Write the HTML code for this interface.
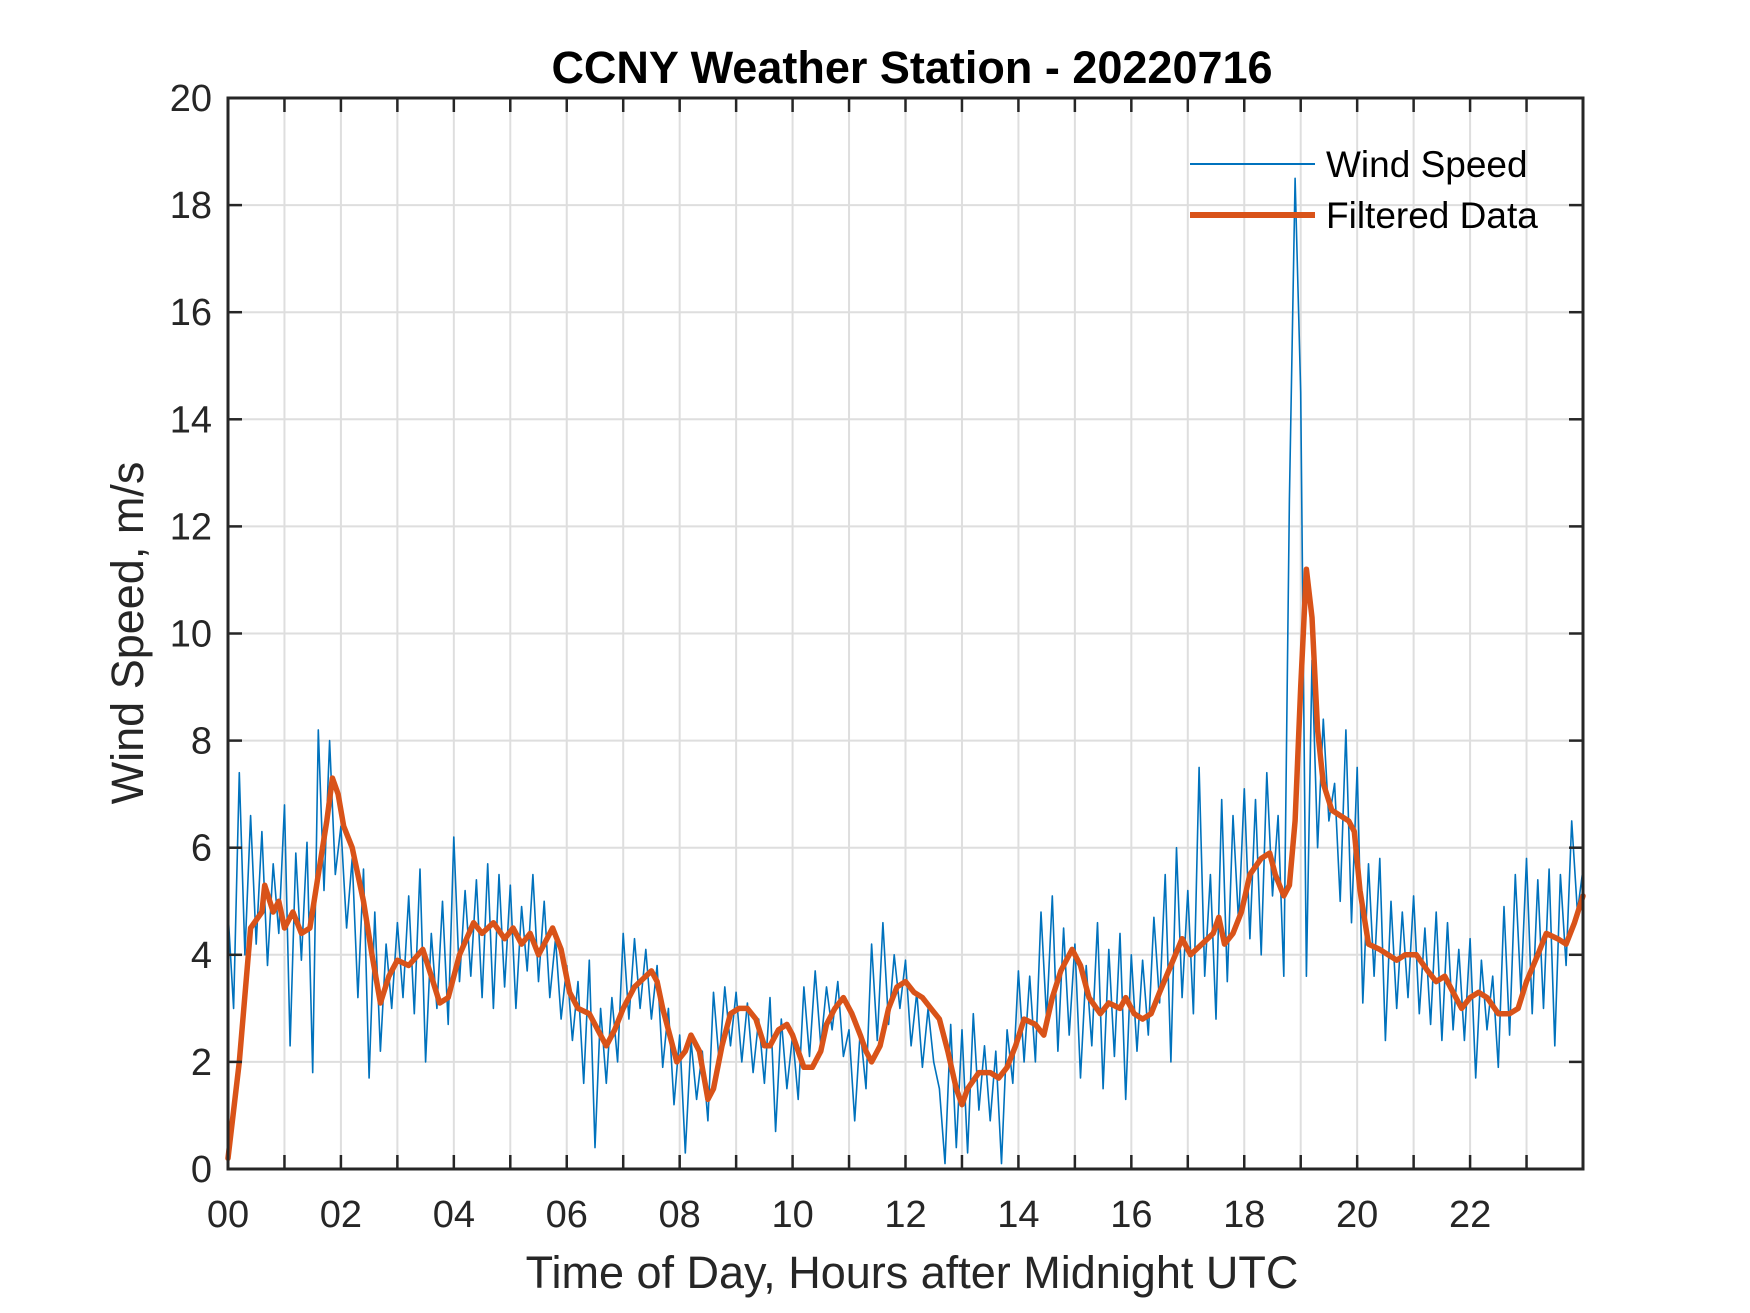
<!DOCTYPE html>
<html><head><meta charset="utf-8">
<style>
html,body{margin:0;padding:0;background:#fff;}
svg{display:block;font-family:"Liberation Sans",Arial,sans-serif;}
</style></head>
<body>
<svg id="chart" width="1750" height="1313" viewBox="0 0 1750 1313">
<rect x="0" y="0" width="1750" height="1313" fill="#fff"/>
<g id="grid"></g>
<g id="series"></g>
<g id="axes"></g>
<text x="912" y="83" text-anchor="middle" font-size="45" font-weight="bold" fill="#000">CCNY Weather Station - 20220716</text>
<text x="912" y="1288" text-anchor="middle" font-size="45" fill="#262626">Time of Day, Hours after Midnight UTC</text>
<text transform="translate(143,633) rotate(-90)" text-anchor="middle" font-size="45" fill="#262626">Wind Speed, m/s</text>
<g>
<line x1="1190" y1="164" x2="1315" y2="164" stroke="#0072BD" stroke-width="2"/>
<text x="1326" y="177" font-size="37" fill="#000">Wind Speed</text>
<line x1="1190" y1="215" x2="1315" y2="215" stroke="#D95319" stroke-width="6"/>
<text x="1326" y="228" font-size="37" fill="#000">Filtered Data</text>
</g>
</svg>
<script>
const xTickLabels=["00","02","04","06","08","10","12","14","16","18","20","22"];
const yTickLabels=["0","2","4","6","8","10","12","14","16","18","20"];
const rawStep=0.1;
const rawValues=[
4.8,3.0,7.4,4.0,6.6,4.2,6.3,3.8,5.7,4.4,
6.8,2.3,5.9,3.9,6.1,1.8,8.2,5.2,8.0,5.5,
6.4,4.5,5.8,3.2,5.6,1.7,4.8,2.2,4.2,3.0,
4.6,3.2,5.1,2.9,5.6,2.0,4.4,3.0,5.0,2.7,
6.2,3.5,5.2,3.6,5.4,3.2,5.7,3.0,5.5,3.4,
5.3,3.0,4.9,3.7,5.5,3.5,5.0,3.2,4.3,2.8,
3.8,2.4,3.5,1.6,3.9,0.4,3.0,1.6,3.2,2.0,
4.4,2.8,4.3,3.0,4.1,2.8,3.8,1.9,3.0,1.2,
2.5,0.3,2.4,1.3,2.2,0.9,3.3,2.0,3.4,2.3,
3.3,2.0,3.1,1.8,2.8,1.6,3.2,0.7,2.8,1.5,
2.5,1.3,3.4,2.1,3.7,2.3,3.4,2.6,3.5,2.1,
2.6,0.9,2.6,1.5,4.2,2.4,4.6,2.7,4.0,3.0,
3.9,2.3,3.3,1.9,3.0,2.0,1.5,0.1,2.7,0.4,
2.6,0.3,2.9,1.1,2.3,0.9,2.2,0.1,2.6,1.6,
3.7,2.0,3.6,2.0,4.8,2.8,5.1,2.2,4.5,2.5,
4.2,1.7,3.8,2.3,4.6,1.5,4.1,2.1,4.4,1.3,
4.0,2.2,3.9,2.5,4.7,3.1,5.5,2.0,6.0,3.2,
5.2,2.9,7.5,3.6,5.5,2.8,6.9,3.5,6.6,4.6,
7.1,4.3,6.9,4.0,7.4,5.1,6.6,3.6,12.5,18.5,
14.5,3.6,9.5,6.0,8.4,6.5,7.2,5.0,8.2,4.6,
7.5,3.1,5.7,3.6,5.8,2.4,5.0,3.0,4.8,3.2,
5.1,2.9,4.5,2.7,4.8,2.4,4.6,2.6,4.1,2.4,
4.3,1.7,3.9,2.6,3.6,1.9,4.9,2.5,5.5,3.3,
5.8,2.9,5.4,3.0,5.6,2.3,5.5,3.8,6.5,4.8,
5.6];
const filtHours=[0,0.2,0.4,0.6,0.65,0.8,0.9,1.0,1.15,1.3,1.45,1.6,1.75,1.85,1.95,2.05,2.2,2.4,2.55,2.7,2.85,3.0,3.2,3.45,3.6,3.75,3.9,4.1,4.35,4.5,4.7,4.9,5.05,5.2,5.35,5.5,5.6,5.75,5.9,6.05,6.2,6.4,6.6,6.7,6.85,7.0,7.2,7.4,7.5,7.6,7.7,7.85,7.95,8.1,8.2,8.35,8.45,8.5,8.6,8.75,8.9,9.05,9.2,9.35,9.5,9.6,9.75,9.9,10.0,10.1,10.2,10.35,10.5,10.6,10.75,10.9,11.05,11.2,11.3,11.4,11.55,11.7,11.85,12.0,12.15,12.3,12.45,12.6,12.75,12.9,13.0,13.1,13.3,13.5,13.65,13.8,13.95,14.1,14.3,14.45,14.6,14.75,14.95,15.1,15.25,15.45,15.6,15.8,15.9,16.05,16.2,16.35,16.5,16.7,16.9,17.05,17.25,17.45,17.55,17.65,17.8,17.95,18.1,18.3,18.45,18.55,18.7,18.8,18.9,19.0,19.1,19.2,19.3,19.4,19.55,19.7,19.85,19.95,20.05,20.2,20.4,20.55,20.7,20.85,21.05,21.25,21.4,21.55,21.7,21.85,22.0,22.15,22.3,22.5,22.7,22.85,23.0,23.2,23.35,23.55,23.7,23.85,24.0];
const filtValues=[0.2,2.0,4.5,4.8,5.3,4.8,5.0,4.5,4.8,4.4,4.5,5.5,6.5,7.3,7.0,6.4,6.0,5.0,4.0,3.1,3.6,3.9,3.8,4.1,3.6,3.1,3.2,4.0,4.6,4.4,4.6,4.3,4.5,4.2,4.4,4.0,4.2,4.5,4.1,3.3,3.0,2.9,2.5,2.3,2.6,3.0,3.4,3.6,3.7,3.5,3.0,2.4,2.0,2.2,2.5,2.2,1.6,1.3,1.5,2.3,2.9,3.0,3.0,2.8,2.3,2.3,2.6,2.7,2.5,2.2,1.9,1.9,2.2,2.7,3.0,3.2,2.9,2.5,2.2,2.0,2.3,3.0,3.4,3.5,3.3,3.2,3.0,2.8,2.2,1.5,1.2,1.5,1.8,1.8,1.7,1.9,2.3,2.8,2.7,2.5,3.2,3.7,4.1,3.8,3.2,2.9,3.1,3.0,3.2,2.9,2.8,2.9,3.3,3.8,4.3,4.0,4.2,4.4,4.7,4.2,4.4,4.8,5.5,5.8,5.9,5.5,5.1,5.3,6.5,9.0,11.2,10.3,8.2,7.2,6.7,6.6,6.5,6.3,5.2,4.2,4.1,4.0,3.9,4.0,4.0,3.7,3.5,3.6,3.3,3.0,3.2,3.3,3.2,2.9,2.9,3.0,3.5,4.0,4.4,4.3,4.2,4.6,5.1];

const L=228,R=1583,T=98,B=1169;
const xMax=24,yMax=20;
const NS="http://www.w3.org/2000/svg";
function sx(h){return L+(R-L)*h/xMax;}
function sy(v){return B-(B-T)*v/yMax;}
function mk(tag,attrs,parent){const e=document.createElementNS(NS,tag);for(const k in attrs)e.setAttribute(k,attrs[k]);parent.appendChild(e);return e;}
const grid=document.getElementById('grid'),series=document.getElementById('series'),axes=document.getElementById('axes');
for(let h=1;h<xMax;h++){
  const g=mk('line',{x1:sx(h),x2:sx(h),y1:T,y2:B,stroke:'#dedede','stroke-width':2},grid);
  
  
}
for(let i=1;i<yTickLabels.length-1;i++){
  const v=+yTickLabels[i];
  const g=mk('line',{x1:L,x2:R,y1:sy(v),y2:sy(v),stroke:'#dedede','stroke-width':2},grid);
  
  
}
let d='';
rawValues.forEach((v,i)=>{d+=(i?'L':'M')+sx(Math.min(i*rawStep,xMax)).toFixed(1)+','+sy(v).toFixed(1);});
const raw=mk('path',{d:d,fill:'none',stroke:'#0072BD','stroke-width':1.6,'stroke-linejoin':'round'},series);


d='';
filtValues.forEach((v,i)=>{d+=(i?'L':'M')+sx(filtHours[i]).toFixed(1)+','+sy(v).toFixed(1);});
const filt=mk('path',{d:d,fill:'none',stroke:'#D95319','stroke-width':5.5,'stroke-linejoin':'round','stroke-linecap':'round'},series);


for(let h=1;h<xMax;h++){
  const t1=mk('line',{x1:sx(h),x2:sx(h),y1:B,y2:B-14,stroke:'#262626','stroke-width':2.5},axes);
  
  
  const t2=mk('line',{x1:sx(h),x2:sx(h),y1:T,y2:T+14,stroke:'#262626','stroke-width':2.5},axes);
  
  
}
xTickLabels.forEach(lab=>{
  const h=+lab;
  const t=mk('text',{x:sx(h),y:1227,'text-anchor':'middle','font-size':38,fill:'#262626'},axes);
  t.textContent=lab;
  
  
});
yTickLabels.forEach(lab=>{
  const v=+lab;
  const t1=mk('line',{x1:L,x2:L+14,y1:sy(v),y2:sy(v),stroke:'#262626','stroke-width':2.5},axes);
  
  
  const t2=mk('line',{x1:R,x2:R-14,y1:sy(v),y2:sy(v),stroke:'#262626','stroke-width':2.5},axes);
  
  
  const t=mk('text',{x:212,y:sy(v)+13,'text-anchor':'end','font-size':38,fill:'#262626'},axes);
  t.textContent=lab;
  
  
});
const box=mk('rect',{x:L,y:T,width:R-L,height:B-T,fill:'none',stroke:'#262626','stroke-width':3},axes);


</script>
</body></html>
